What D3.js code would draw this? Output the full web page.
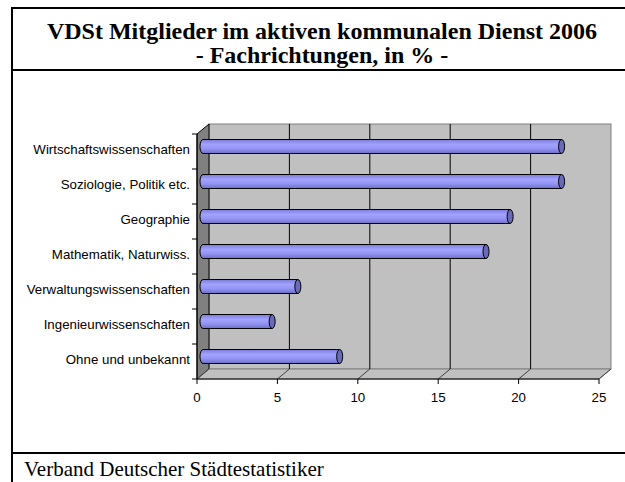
<!DOCTYPE html>
<html>
<head>
<meta charset="utf-8">
<script src="https://cdn.jsdelivr.net/npm/d3@7"></script>
<style>
  body { margin: 0; background: #fff; overflow: hidden; }
  svg { display: block; }
</style>
</head>
<body>
<div id="chart"></div>
<script>
const categories = [
  'Wirtschaftswissenschaften',
  'Soziologie, Politik etc.',
  'Geographie',
  'Mathematik, Naturwiss.',
  'Verwaltungswissenschaften',
  'Ingenieurwissenschaften',
  'Ohne und unbekannt'
];
const values = [22.3, 22.3, 19.1, 17.6, 5.9, 4.3, 8.5];
const xTicks = [0, 5, 10, 15, 20, 25];
const titleLines = ['VDSt Mitglieder im aktiven kommunalen Dienst 2006', '- Fachrichtungen, in % -'];
const footer = 'Verband Deutscher Städtestatistiker';

const width = 625, height = 482;
const plot = { left: 197, right: 599, top: 134, bottom: 379 };
const depth = { dx: 12, dy: -10 };

const svg = d3.select('#chart')
  .append('svg')
  .attr('width', width)
  .attr('height', height);

// frame (right and bottom edges lie outside the picture)
const frameLines = [
  [12, 8, width, 8],
  [12, 7, 12, height],
  [12, 70, width, 70],
  [12, 453, width, 453]
];
svg.selectAll('line.frame')
  .data(frameLines)
  .enter()
  .append('line')
  .attr('class', 'frame')
  .attr('x1', d => d[0]).attr('y1', d => d[1])
  .attr('x2', d => d[2]).attr('y2', d => d[3])
  .attr('stroke', '#000')
  .attr('stroke-width', 2);

// title
svg.selectAll('text.title')
  .data(titleLines)
  .enter()
  .append('text')
  .attr('class', 'title')
  .attr('x', 322)
  .attr('y', (d, i) => 39 + i * 24)
  .attr('text-anchor', 'middle')
  .attr('font-family', '"Liberation Serif", "Times New Roman", serif')
  .attr('font-weight', 'bold')
  .attr('font-size', 24)
  .text(d => d);

// footer
svg.append('text')
  .attr('x', 24).attr('y', 476)
  .attr('font-family', '"Liberation Serif", "Times New Roman", serif')
  .attr('font-size', 21)
  .text(footer);

const x = d3.scaleLinear().domain([0, 25]).range([plot.left, plot.right]);
const y = d3.scaleBand().domain(categories).range([plot.top, plot.bottom]).padding(0);

// back wall
svg.append('rect')
  .attr('x', plot.left + depth.dx)
  .attr('y', plot.top + depth.dy)
  .attr('width', plot.right - plot.left)
  .attr('height', plot.bottom - plot.top)
  .attr('fill', '#c0c0c0')
  .attr('stroke', '#808080')
  .attr('stroke-width', 1);

// side wall
svg.append('polygon')
  .attr('points', [
    [plot.left, plot.top],
    [plot.left + depth.dx, plot.top + depth.dy],
    [plot.left + depth.dx, plot.bottom + depth.dy],
    [plot.left, plot.bottom]
  ].join(' '))
  .attr('fill', '#808080')
  .attr('stroke', '#000')
  .attr('stroke-width', 1);

// floor
svg.append('polygon')
  .attr('points', [
    [plot.left, plot.bottom],
    [plot.left + depth.dx, plot.bottom + depth.dy],
    [plot.right + depth.dx, plot.bottom + depth.dy],
    [plot.right, plot.bottom]
  ].join(' '))
  .attr('fill', '#c0c0c0')
  .attr('stroke', '#808080')
  .attr('stroke-width', 1);

// gridlines on back wall
svg.selectAll('line.grid')
  .data(xTicks.slice(1, -1))
  .enter()
  .append('line')
  .attr('class', 'grid')
  .attr('x1', d => x(d) + depth.dx)
  .attr('x2', d => x(d) + depth.dx)
  .attr('y1', plot.top + depth.dy)
  .attr('y2', plot.bottom + depth.dy)
  .attr('stroke', '#000')
  .attr('stroke-width', 1);

// floor diagonals
svg.selectAll('line.floor')
  .data(xTicks)
  .enter()
  .append('line')
  .attr('class', 'floor')
  .attr('x1', d => x(d))
  .attr('x2', d => x(d) + depth.dx)
  .attr('y1', plot.bottom)
  .attr('y2', plot.bottom + depth.dy)
  .attr('stroke', '#404040')
  .attr('stroke-width', 1);

// bars as cylinders
const defs = svg.append('defs');
const grad = defs.append('linearGradient')
  .attr('id', 'cyl')
  .attr('x1', 0).attr('y1', 0).attr('x2', 0).attr('y2', 1);
grad.append('stop').attr('offset', '0%').attr('stop-color', '#7a7ad8');
grad.append('stop').attr('offset', '35%').attr('stop-color', '#a3a3ff');
grad.append('stop').attr('offset', '65%').attr('stop-color', '#9494f4');
grad.append('stop').attr('offset', '100%').attr('stop-color', '#6e6ec8');

const barH = 14;
const rx = 3;
const bars = svg.selectAll('g.bar')
  .data(categories.map((c, i) => ({ cat: c, value: values[i] })))
  .enter()
  .append('g')
  .attr('class', 'bar');

const cy = d => y(d.cat) + y.bandwidth() / 2 + depth.dy / 2;
const x0 = x(0) + depth.dx / 2;
const x1 = d => x(d.value) + depth.dx / 2;

bars.append('path')
  .attr('d', d => {
    const top = cy(d) - barH / 2, bot = cy(d) + barH / 2;
    return `M${x1(d)},${top} L${x0},${top} A${rx},${barH / 2} 0 0 0 ${x0},${bot} L${x1(d)},${bot} Z`;
  })
  .attr('fill', 'url(#cyl)')
  .attr('stroke', '#000')
  .attr('stroke-width', 1);

bars.append('ellipse')
  .attr('cx', d => x1(d))
  .attr('cy', d => cy(d))
  .attr('rx', rx)
  .attr('ry', barH / 2)
  .attr('fill', '#6a6ab8')
  .attr('stroke', '#000')
  .attr('stroke-width', 1);

// y axis line, ticks and labels
svg.append('line')
  .attr('x1', plot.left).attr('x2', plot.left)
  .attr('y1', plot.top).attr('y2', plot.bottom)
  .attr('stroke', '#000');
const yBounds = categories.map(c => y(c)).concat([plot.bottom]);
svg.selectAll('line.ytick')
  .data(yBounds)
  .enter()
  .append('line')
  .attr('class', 'ytick')
  .attr('x1', plot.left - 5).attr('x2', plot.left)
  .attr('y1', d => d).attr('y2', d => d)
  .attr('stroke', '#000');
svg.selectAll('text.ylab')
  .data(categories)
  .enter()
  .append('text')
  .attr('class', 'ylab')
  .attr('x', 190)
  .attr('y', d => y(d) + y.bandwidth() / 2 + 2)
  .attr('text-anchor', 'end')
  .attr('font-family', '"Liberation Sans", Arial, sans-serif')
  .attr('font-size', 13.3)
  .text(d => d);

// x axis
svg.append('line')
  .attr('x1', plot.left).attr('x2', plot.right)
  .attr('y1', plot.bottom).attr('y2', plot.bottom)
  .attr('stroke', '#000');
svg.selectAll('line.xtick')
  .data(xTicks)
  .enter()
  .append('line')
  .attr('class', 'xtick')
  .attr('x1', d => x(d)).attr('x2', d => x(d))
  .attr('y1', plot.bottom).attr('y2', plot.bottom + 5)
  .attr('stroke', '#000');
svg.selectAll('text.xlab')
  .data(xTicks)
  .enter()
  .append('text')
  .attr('class', 'xlab')
  .attr('x', d => x(d))
  .attr('y', 402)
  .attr('text-anchor', 'middle')
  .attr('font-family', '"Liberation Sans", Arial, sans-serif')
  .attr('font-size', 13.3)
  .text(d => d);
</script>
</body>
</html>
